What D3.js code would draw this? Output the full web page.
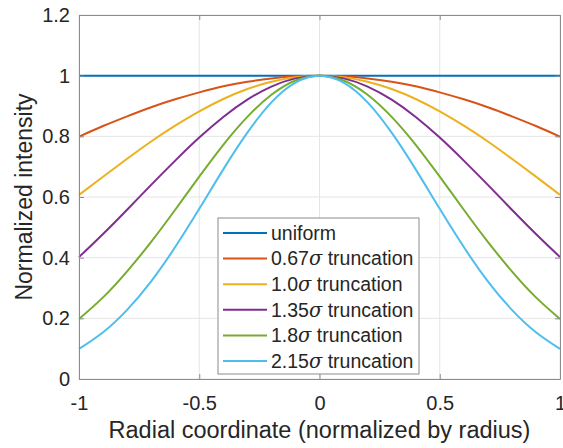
<!DOCTYPE html>
<html>
<head>
<meta charset="utf-8">
<script src="https://cdn.jsdelivr.net/npm/d3@7"></script>
<style>
  body { margin: 0; background: #fff; }
  text { font-family: "Liberation Sans", Arial, sans-serif; fill: #262626; }
</style>
</head>
<body>
<div id="chart"></div>
<script>
// radial positions of the samples
var radius = [-1, -0.9, -0.8, -0.7, -0.6, -0.5, -0.4, -0.3, -0.2, -0.1, 0,
              0.1, 0.2, 0.3, 0.4, 0.5, 0.6, 0.7, 0.8, 0.9, 1];

// intensity values
var uniform = [1, 1, 1, 1, 1, 1, 1, 1, 1, 1, 1, 1, 1, 1, 1, 1, 1, 1, 1, 1, 1];
var trunc067 = [0.799, 0.834, 0.866, 0.896, 0.922, 0.945, 0.965, 0.980, 0.991, 0.998, 1,
                0.998, 0.991, 0.980, 0.965, 0.945, 0.922, 0.896, 0.866, 0.834, 0.799];
var trunc100 = [0.607, 0.667, 0.726, 0.783, 0.835, 0.882, 0.923, 0.956, 0.980, 0.995, 1,
                0.995, 0.980, 0.956, 0.923, 0.882, 0.835, 0.783, 0.726, 0.667, 0.607];
var trunc135 = [0.402, 0.478, 0.558, 0.640, 0.720, 0.796, 0.864, 0.921, 0.964, 0.991, 1,
                0.991, 0.964, 0.921, 0.864, 0.796, 0.720, 0.640, 0.558, 0.478, 0.402];
var trunc180 = [0.198, 0.269, 0.355, 0.452, 0.558, 0.667, 0.772, 0.864, 0.937, 0.984, 1,
                0.984, 0.937, 0.864, 0.772, 0.667, 0.558, 0.452, 0.355, 0.269, 0.198];
var trunc215 = [0.099, 0.154, 0.228, 0.322, 0.435, 0.561, 0.691, 0.812, 0.912, 0.977, 1,
                0.977, 0.912, 0.812, 0.691, 0.561, 0.435, 0.322, 0.228, 0.154, 0.099];

var seriesNames = ["uniform", "0.67", "1.0", "1.35", "1.8", "2.15"];
var seriesValues = [uniform, trunc067, trunc100, trunc135, trunc180, trunc215];
var colors = ["#0072BD", "#D95319", "#EDB120", "#7E2F8E", "#77AC30", "#4DBEEE"];

var xTicks = [-1, -0.5, 0, 0.5, 1];
var yTicks = [0, 0.2, 0.4, 0.6, 0.8, 1, 1.2];

var width = 563, height = 448;
var margin = {top: 15, right: 3, bottom: 69, left: 79};
var w = width - margin.left - margin.right;
var h = height - margin.top - margin.bottom;

var svg = d3.select("#chart").append("svg")
  .attr("width", width)
  .attr("height", height);

var plot = svg.append("g")
  .attr("transform", "translate(" + margin.left + "," + margin.top + ")");

var xScale = d3.scaleLinear().domain([-1, 1]).range([0, w]);
var yScale = d3.scaleLinear().domain([0, 1.2]).range([h, 0]);

// grid
plot.append("g").selectAll("line")
  .data(xTicks)
  .join("line")
  .attr("x1", d => xScale(d)).attr("x2", d => xScale(d))
  .attr("y1", 0).attr("y2", h)
  .attr("stroke", "#e5e5e5");

plot.append("g").selectAll("line")
  .data(yTicks)
  .join("line")
  .attr("x1", 0).attr("x2", w)
  .attr("y1", d => yScale(d)).attr("y2", d => yScale(d))
  .attr("stroke", "#e5e5e5");

// curves
var line = d3.line()
  .curve(d3.curveNatural)
  .x((d, i) => xScale(radius[i]))
  .y(d => yScale(d));

plot.selectAll(".curve")
  .data(seriesValues)
  .join("path")
  .attr("class", "curve")
  .attr("fill", "none")
  .attr("stroke", (d, i) => colors[i])
  .attr("stroke-width", 2)
  .attr("d", line);

// axes (MATLAB style: ticks pointing in, box all round)
var fmt = d => String(+d.toFixed(1)); // plain hyphen like the original

var xAxis = d3.axisBottom(xScale).tickValues(xTicks).tickSizeInner(-5).tickSizeOuter(0)
  .tickPadding(17).tickFormat(fmt);
var yAxis = d3.axisLeft(yScale).tickValues(yTicks).tickSizeInner(-5).tickSizeOuter(0)
  .tickPadding(9).tickFormat(fmt);

var gx = plot.append("g")
  .attr("transform", "translate(0," + h + ")")
  .call(xAxis);
var gy = plot.append("g").call(yAxis);

plot.append("g")
  .call(d3.axisTop(xScale).tickValues(xTicks).tickSizeInner(-5).tickSizeOuter(0).tickFormat(""));
plot.append("g")
  .attr("transform", "translate(" + w + ",0)")
  .call(d3.axisRight(yScale).tickValues(yTicks).tickSizeInner(-5).tickSizeOuter(0).tickFormat(""));

plot.selectAll(".domain, .tick line").attr("stroke", "#8c8c8c");
gx.selectAll("text").style("font-size", "20px");
gy.selectAll("text").style("font-size", "20px");

// axis titles
svg.append("text")
  .attr("x", margin.left + w / 2)
  .attr("y", 438)
  .attr("text-anchor", "middle")
  .style("font-size", "23.5px")
  .text("Radial coordinate (normalized by radius)");

svg.append("text")
  .attr("transform", "translate(32," + (margin.top + h / 2) + ") rotate(-90)")
  .attr("text-anchor", "middle")
  .style("font-size", "23px")
  .text("Normalized intensity");

// legend
var legend = svg.append("g").attr("transform", "translate(218,218)");

legend.append("rect")
  .attr("width", 201).attr("height", 156)
  .attr("fill", "#fff")
  .attr("stroke", "#8c8c8c");

var item = legend.selectAll(".item")
  .data(seriesNames)
  .join("g")
  .attr("class", "item")
  .attr("transform", (d, i) => "translate(0," + (15 + i * 25.6) + ")");

item.append("line")
  .attr("x1", 5).attr("x2", 49)
  .attr("stroke", (d, i) => colors[i])
  .attr("stroke-width", 2);

var label = item.append("text")
  .attr("x", 53)
  .attr("dy", "0.35em")
  .style("font-size", "19.5px");

label.each(function(d) {
  var t = d3.select(this);
  if (d == "uniform") { t.text(d); return; }
  t.append("tspan").text(d);
  t.append("tspan").style("font-family", "'DejaVu Serif', serif").style("font-style", "italic").text("σ");
  t.append("tspan").text(" truncation");
});
</script>
</body>
</html>
